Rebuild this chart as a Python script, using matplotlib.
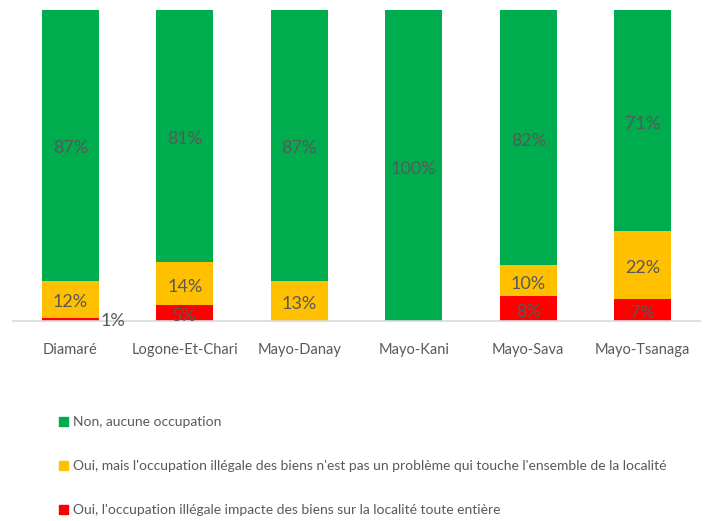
import matplotlib
matplotlib.use("Agg")
import matplotlib.pyplot as plt
from matplotlib.patches import Patch

plt.rcParams["font.family"] = ["Lato", "DejaVu Sans"]

# data (percent)
regions = ["Diamaré", "Logone-Et-Chari", "Mayo-Danay", "Mayo-Kani", "Mayo-Sava", "Mayo-Tsanaga"]
red_vals = [1, 5, 0, 0, 8, 7]
orange_vals = [12, 14, 13, 0, 10, 22]
green_vals = [87, 81, 87, 100, 82, 71]

labels = ["Non, aucune occupation",
          "Oui, mais l'occupation illégale des biens n'est pas un problème qui touche l'ensemble de la localité",
          "Oui, l'occupation illégale impacte des biens sur la localité toute entière"]
colors = ["#00AD4E", "#FFC000", "#FF0000"]
txt = "#595959"

fig = plt.figure(figsize=(7.09, 5.21), dpi=100)
ax = fig.add_axes([13/709, 1-321/521, 687/709, 311/521])

x = list(range(len(regions)))
w = 0.5
ax.bar(x, red_vals, w, color=colors[2])
ax.bar(x, orange_vals, w, bottom=red_vals, color=colors[1])
bottoms = [r + o for r, o in zip(red_vals, orange_vals)]
ax.bar(x, green_vals, w, bottom=bottoms, color=colors[0])

# value labels
fs = 13
for i in x:
    r, o, g = red_vals[i], orange_vals[i], green_vals[i]
    if r >= 3:
        ax.text(i, r / 2 - 1, f"{r}%", ha="center", va="center", fontsize=fs, color=txt)
    elif r > 0:
        ax.text(i + 0.37, 0, f"{r}%", ha="center", va="center", fontsize=fs, color=txt)
    if o > 0:
        ax.text(i, r + o / 2 - 1, f"{o}%", ha="center", va="center", fontsize=fs, color=txt)
    if g > 0:
        ax.text(i, r + o + g / 2 - 1, f"{g}%", ha="center", va="center", fontsize=fs, color=txt)

ax.set_xlim(-0.5, 5.5)
ax.set_ylim(0, 100)
ax.set_xticks(x)
ax.set_xticklabels(regions, fontsize=10.5, color=txt)
ax.tick_params(axis="x", length=0, pad=16)
ax.set_yticks([])
for s in ["top", "left", "right"]:
    ax.spines[s].set_visible(False)
ax.spines["bottom"].set_color("#D9D9D9")
ax.spines["bottom"].set_linewidth(1.2)

handles = [Patch(color=c) for c in colors]
fig.legend(handles, labels, loc="upper left", bbox_to_anchor=(46/709, 1-404/521),
           frameon=False, fontsize=10, labelcolor=txt, labelspacing=2.3,
           handlelength=0.65, handleheight=0.65, handletextpad=0.4)

fig.savefig("out.png", dpi=100)
